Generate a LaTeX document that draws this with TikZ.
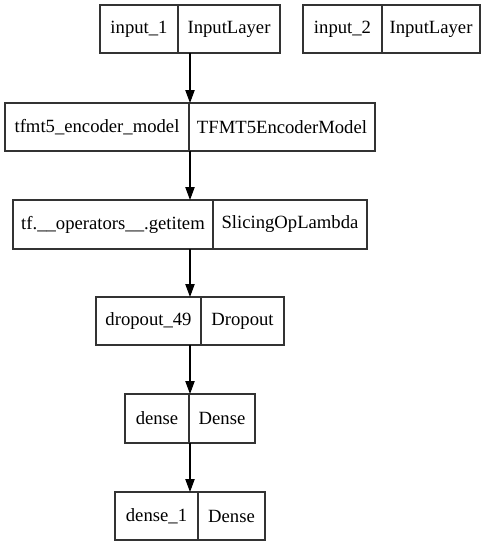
\documentclass[tikz,border=0pt]{standalone}
\usepackage{fontspec}
\setmainfont{Liberation Serif}
\newfontfamily\timesfont{Liberation Serif}
\usetikzlibrary{arrows.meta}
\tikzset{
  boxline/.style={draw=black!80, line width=0.9pt},
  fieldtext/.style={inner sep=0pt, font=\timesfont\fontsize{14}{16}\selectfont},
  conn/.style={draw=black, line width=0.8pt, -{Triangle[length=9.75pt,width=7pt]}}
}
% #1 name, #2 x1, #3 x2, #4 y1, #5 y2, #6 divider x, #7 left text, #8 right text
\newcommand\recbox[8]{%
  \draw[boxline] (#2,#4) rectangle (#3,#5);
  \draw[boxline] (#6,#4) -- (#6,#5);
  \node[fieldtext] (#1-l) at ({(#2+#6)/2},{(#4+#5)/2}) {#7};
  \node[fieldtext] (#1-r) at ({(#6+#3)/2},{(#4+#5)/2}) {#8};
  \coordinate (#1-top) at ({(#2+#3)/2},#4);
  \coordinate (#1-bot) at ({(#2+#3)/2},#5);
}
\begin{document}
\begin{tikzpicture}[x=0.75pt,y=-0.75pt]
\useasboundingbox (0,0) rectangle (490,547);
\recbox{a}{100}{280}{5}{53}{178}{input\_1}{InputLayer}
\recbox{b}{303}{480}{5}{53}{382}{input\_2}{InputLayer}
\recbox{c}{5}{375}{103}{151}{189}{tfmt5\_encoder\_model}{TFMT5EncoderModel}
\recbox{d}{13}{367}{200}{249}{213}{tf.\_\_operators\_\_.getitem}{SlicingOpLambda}
\recbox{e}{96}{284}{297}{345}{201}{dropout\_49}{Dropout}
\recbox{f}{125}{255}{394}{443}{189}{dense}{Dense}
\recbox{g}{115}{265}{492}{540}{198}{dense\_1}{Dense}
\draw[conn] (a-bot) -- (c-top);
\draw[conn] (c-bot) -- (d-top);
\draw[conn] (d-bot) -- (e-top);
\draw[conn] (e-bot) -- (f-top);
\draw[conn] (f-bot) -- (g-top);
\end{tikzpicture}
\end{document}
